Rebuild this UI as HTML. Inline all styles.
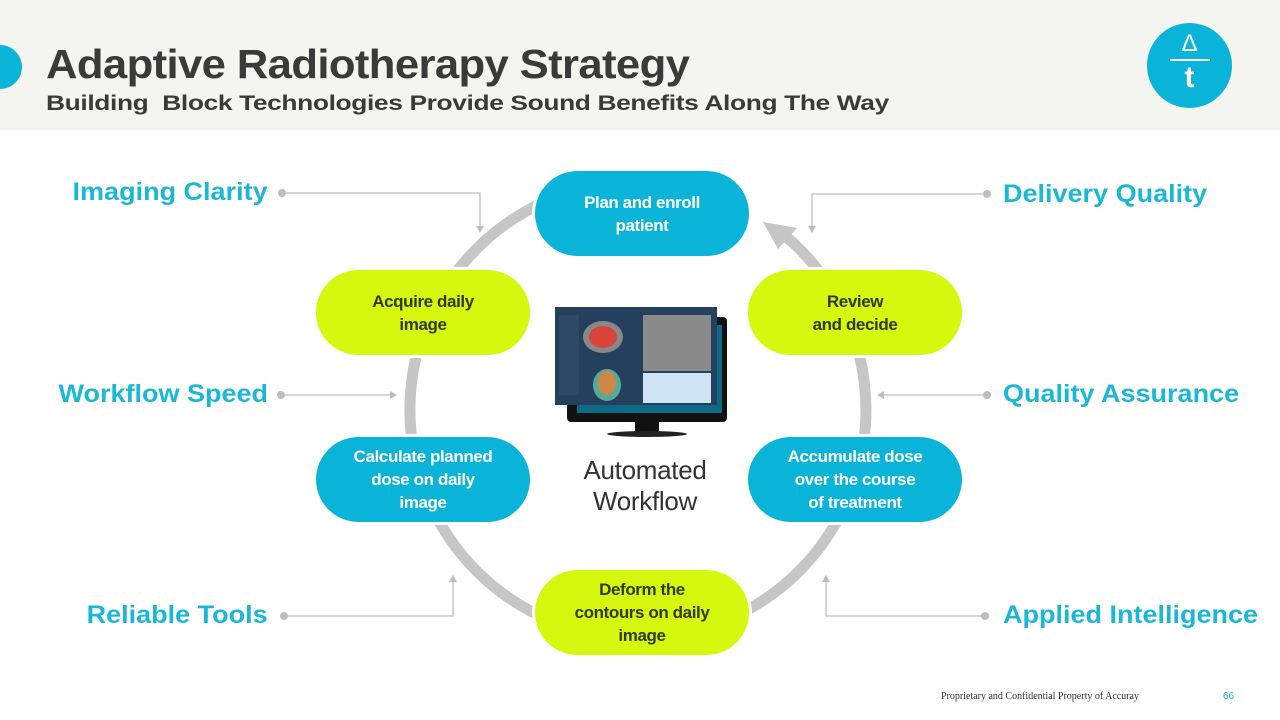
<!DOCTYPE html>
<html><head><meta charset="utf-8"><style>
body{margin:0;width:1280px;height:720px;overflow:hidden;background:#fff;font-family:"Liberation Sans",sans-serif;position:relative}
.hdr{position:absolute;left:0;top:0;width:1280px;height:130px;background:#f4f4f1}
.t1{position:absolute;left:46px;top:41px;font-size:41px;font-weight:bold;color:#3a3a3a;letter-spacing:-0.6px;white-space:nowrap;transform:scaleX(1.065);transform-origin:left}
.t2{position:absolute;left:46px;top:92px;font-size:21px;font-weight:bold;color:#3a3a3a;transform:scaleX(1.255);transform-origin:left;white-space:nowrap;letter-spacing:-0.3px}
.lbl{position:absolute;font-size:25px;font-weight:bold;color:#1ab8d4;white-space:nowrap;transform:scaleX(1.08)}
.L{transform-origin:right}.R{transform-origin:left}
.pill{position:absolute;width:214px;height:85px;border-radius:43px;display:flex;align-items:center;justify-content:center;text-align:center;font-weight:bold;font-size:17px;line-height:23px;letter-spacing:-0.4px;box-shadow:0 0 0 3px #fff}
.c{background:#0ab4d8;color:#fff}.l{background:#d5f80f;color:#333a10}
</style></head><body>
<div class="hdr"></div>
<div style="position:absolute;left:-22px;top:45px;width:44px;height:44px;border-radius:50%;background:#0ab4d8"></div>
<div class="t1">Adaptive Radiotherapy Strategy</div>
<div class="t2">Building&nbsp; Block Technologies Provide Sound Benefits Along The Way</div>
<div style="position:absolute;left:1147px;top:23px;width:85px;height:85px;border-radius:50%;background:#0ab4d8;color:#fff;text-align:center">
<div style="font-size:24px;margin-top:8px;line-height:26px">Δ</div>
<div style="width:40px;height:2px;background:#fff;margin:2px auto 0"></div>
<div style="font-size:30px;font-weight:bold;line-height:30px;margin-top:2px">t</div></div>
<svg width="1280" height="720" style="position:absolute;left:0;top:0">
<path d="M787.6,237.9 A228,228 0 1 1 748.5,210.5" fill="none" stroke="#c6c6c6" stroke-width="11"/>
<polygon points="763,222 797,228 778,249" fill="#c6c6c6"/>
<g stroke="#bdbdbd" stroke-width="1.3" fill="none">
<polyline points="282,193 480,193 480,226"/>
<polyline points="987,194 812,194 812,226"/>
<line x1="281" y1="395" x2="390" y2="395"/>
<line x1="987" y1="395" x2="884" y2="395"/>
<polyline points="284,616 453,616 453,582"/>
<polyline points="985,616 826,616 826,582"/>
</g>
<g fill="#bdbdbd">
<circle cx="282" cy="193" r="4"/><circle cx="987" cy="194" r="4"/><circle cx="281" cy="395" r="4"/><circle cx="987" cy="395" r="4"/><circle cx="284" cy="616" r="4"/><circle cx="985" cy="616" r="4"/>
<polygon points="476,226 484,226 480,233"/><polygon points="808,226 816,226 812,233"/>
<polygon points="390,391 390,399 397,395"/><polygon points="884,391 884,399 877,395"/>
<polygon points="449,582 457,582 453,575"/><polygon points="822,582 830,582 826,575"/>
</g>
<g transform="translate(555,307)">
<rect x="12" y="10" width="160" height="105" rx="4" fill="#111"/>
<rect x="22" y="18" width="145" height="88" fill="#0d6a86"/>
<rect x="0" y="0" width="162" height="98" fill="#24405c"/>
<rect x="4" y="8" width="20" height="80" fill="#2c4a68"/>
<ellipse cx="48" cy="30" rx="20" ry="16" fill="#888"/><ellipse cx="48" cy="30" rx="14" ry="11" fill="#d8443a"/>
<ellipse cx="52" cy="78" rx="14" ry="16" fill="#5a9"/><ellipse cx="52" cy="76" rx="9" ry="12" fill="#c84"/>
<rect x="88" y="8" width="68" height="56" fill="#8a8a8a"/>
<rect x="88" y="66" width="68" height="30" fill="#cfe4f4"/>
<rect x="80" y="115" width="24" height="10" fill="#111"/>
<ellipse cx="92" cy="127" rx="40" ry="3" fill="#222"/>
</g>
</svg>
<div class="lbl L" style="right:1012px;top:178px">Imaging Clarity</div>
<div class="lbl L" style="right:1012px;top:380px">Workflow Speed</div>
<div class="lbl L" style="right:1012px;top:601px">Reliable Tools</div>
<div class="lbl R" style="left:1003px;top:180px">Delivery Quality</div>
<div class="lbl R" style="left:1003px;top:380px">Quality Assurance</div>
<div class="lbl R" style="left:1003px;top:601px">Applied Intelligence</div>
<div class="pill c" style="left:535px;top:171px">Plan and enroll<br>patient</div>
<div class="pill l" style="left:316px;top:270px">Acquire daily<br>image</div>
<div class="pill l" style="left:748px;top:270px">Review<br>and decide</div>
<div class="pill c" style="left:316px;top:437px">Calculate planned<br>dose on daily<br>image</div>
<div class="pill c" style="left:748px;top:437px">Accumulate dose<br>over the course<br>of treatment</div>
<div class="pill l" style="left:535px;top:570px">Deform the<br>contours on daily<br>image</div>
<div style="position:absolute;left:545px;top:455px;width:200px;text-align:center;font-size:26px;line-height:31px;color:#333;letter-spacing:-0.3px">Automated<br>Workflow</div>
<div style="position:absolute;left:941px;top:691px;font-family:'Liberation Serif',serif;font-size:10px;color:#333">Proprietary and Confidential Property of Accuray</div>
<div style="position:absolute;left:1223px;top:691px;font-size:10px;color:#1ab8d4">66</div>
</body></html>
